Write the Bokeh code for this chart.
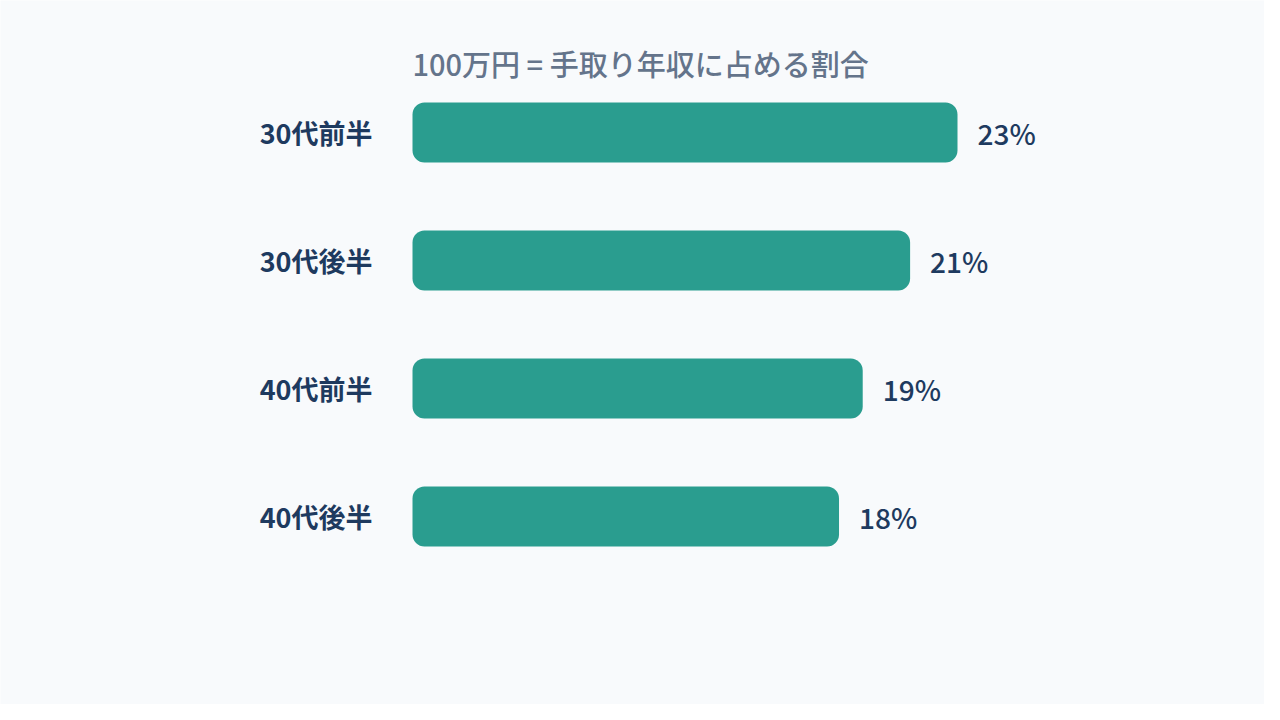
from bokeh.plotting import figure
from bokeh.models import Range1d, ColumnDataSource, Label
from bokeh.core.properties import value
from bokeh.embed import file_html
from bokeh.resources import INLINE

categories = ["30代前半", "30代後半", "40代前半", "40代後半"]
shares = [23, 21, 19, 18]
value_labels = ["23%", "21%", "19%", "18%"]
title_text = "100万円 = 手取り年収に占める割合"

W, H = 1264, 704
ppu = 545 / 23.0          # pixels per percent
x0 = 412                  # canvas x of zero
row = 128.0               # pixels per row
y_first = 132             # canvas y of first bar center

FONT = "Noto Sans CJK JP"
FONT_MED = "Noto Sans CJK JP Medium"
BG = "#f8fafc"

p = figure(width=W, height=H, output_backend="svg", toolbar_location=None,
           x_range=Range1d(-x0 / ppu, (W - x0) / ppu),
           y_range=Range1d((H - y_first) / row, -y_first / row),
           min_border=0, background_fill_color=BG, border_fill_color=BG,
           outline_line_color=None)
p.axis.visible = False
p.grid.visible = False

idx = list(range(len(categories)))
src = ColumnDataSource(dict(y=idx, right=shares, cat=categories, lab=value_labels,
                            zero=[0] * len(idx)))

p.hbar(y="y", left=0, right="right", height=60 / row, source=src,
       fill_color="#2a9d8f", line_color=None, border_radius=12)

p.text(x="zero", y="y", text="cat", source=src, x_offset=-40,
       text_align="right", text_baseline="middle",
       text_font=value(FONT), text_font_size="27px", text_font_style="bold",
       text_color="#1e3a5f")

p.text(x="right", y="y", text="lab", source=src, x_offset=20,
       text_align="left", text_baseline="middle",
       text_font=value(FONT_MED), text_font_size="28px", text_font_style="normal",
       text_color="#1e3a5f")

p.add_layout(Label(x=x0, y=H - 62, x_units="screen", y_units="screen",
                   text=title_text, text_align="left", text_baseline="middle",
                   text_font=FONT_MED, text_font_size="29px", text_color="#64748b"))

open("out.html", "w").write(file_html(p, INLINE))
